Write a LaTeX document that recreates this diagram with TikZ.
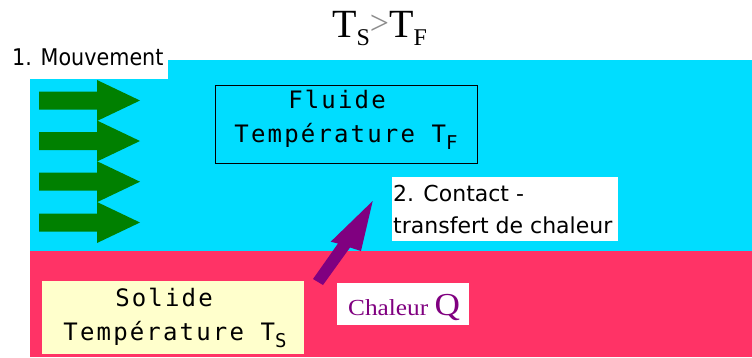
\documentclass[tikz,border=0pt]{standalone}
\usepackage{fontspec}
\newfontfamily\serifT{Liberation Serif}
\newfontfamily\serifW[FakeStretch=1.1]{Liberation Serif}
\newfontfamily\sansD{DejaVu Sans}
\newfontfamily\sansC[FakeStretch=0.9]{DejaVu Sans}
\newfontfamily\monoD[LetterSpace=9]{DejaVu Sans Mono}
\definecolor{fluidc}{RGB}{0,221,255}
\definecolor{solidc}{RGB}{255,51,102}
\definecolor{greenc}{RGB}{0,128,0}
\definecolor{purplec}{RGB}{128,0,128}
\definecolor{yellowc}{RGB}{255,255,204}
\definecolor{grayc}{RGB}{140,140,140}
\tikzset{
  txt/.style={inner sep=0pt, anchor=base west},
  monotxt/.style={inner sep=0pt, anchor=base, font=\monoD\fontsize{24}{24}\selectfont},
  sanstxt/.style={inner sep=0pt, anchor=base west, font=\sansD\fontsize{22}{22}\selectfont},
  panel/.style={inner sep=0pt, draw=none},
}
\begin{document}
\begin{tikzpicture}[x=1pt,y=-1pt]
\useasboundingbox (0,0) rectangle (752,357);
\fill[white] (0,0) rectangle (752,357);
% regions
\fill[fluidc] (30,60) rectangle (752,251);
\fill[solidc] (30,251) rectangle (752,357);
% title
\node[txt, font=\serifT\fontsize{40}{40}\selectfont] (ineq) at (332,37)
  {T\raisebox{-8pt}{\fontsize{24}{24}\selectfont S}\textcolor{grayc}{\raisebox{3pt}{\fontsize{34}{34}\selectfont >}}T\raisebox{-8pt}{\fontsize{24}{24}\selectfont F}};
% mouvement label
\node[panel, fill=white, anchor=south west, minimum width=168pt, minimum height=44pt] (mvtbox) at (0,79) {};
\node[txt, font=\sansC\fontsize{23}{23}\selectfont] (mvt) at (12,65) {1. Mouvement};
% green arrows
\foreach \yy in {100.5,141,181.7,222.5}{
  \fill[greenc] (39,\yy-9) -- (97,\yy-9) -- (97,\yy-20.5) -- (140,\yy) -- (97,\yy+20.5) -- (97,\yy+9) -- (39,\yy+9) -- cycle;
}
% fluid box
\node[draw=black, line width=1pt, inner sep=0pt, minimum width=262pt, minimum height=78pt] (fluide) at (346,124) {};
\node[monotxt] (fl1) at (337,108) {Fluide};
\node[monotxt] (fl2) at (346,142.7) {Température T\raisebox{-7pt}{\fontsize{19}{19}\selectfont F}};
% contact box
\node[panel, fill=white, minimum width=226pt, minimum height=64pt] (contact) at (505,209) {};
\node[sanstxt] (ct1) at (393,201) {2. Contact -};
\node[sanstxt] (ct2) at (393,233.5) {transfert de chaleur};
% solid box
\node[panel, fill=yellowc, minimum width=262pt, minimum height=73pt] (solide) at (173,317.5) {};
\node[monotxt] (so1) at (164,306) {Solide};
\node[monotxt] (so2) at (175,340) {Température T\raisebox{-7pt}{\fontsize{19}{19}\selectfont S}};
% chaleur box
\node[panel, fill=white, minimum width=132pt, minimum height=42pt] (chaleur) at (403,304) {};
\node[txt, font=\serifW\fontsize{23}{23}\selectfont, text=purplec] (chq) at (348,315) {Chaleur \fontsize{32}{32}\selectfont Q};
% purple arrow
\fill[purplec] (372.7,201) -- (330.7,241.7) -- (338,243.5) -- (313,279) -- (323,285) -- (350,247.5) -- (361,251) -- cycle;
\end{tikzpicture}
\end{document}
